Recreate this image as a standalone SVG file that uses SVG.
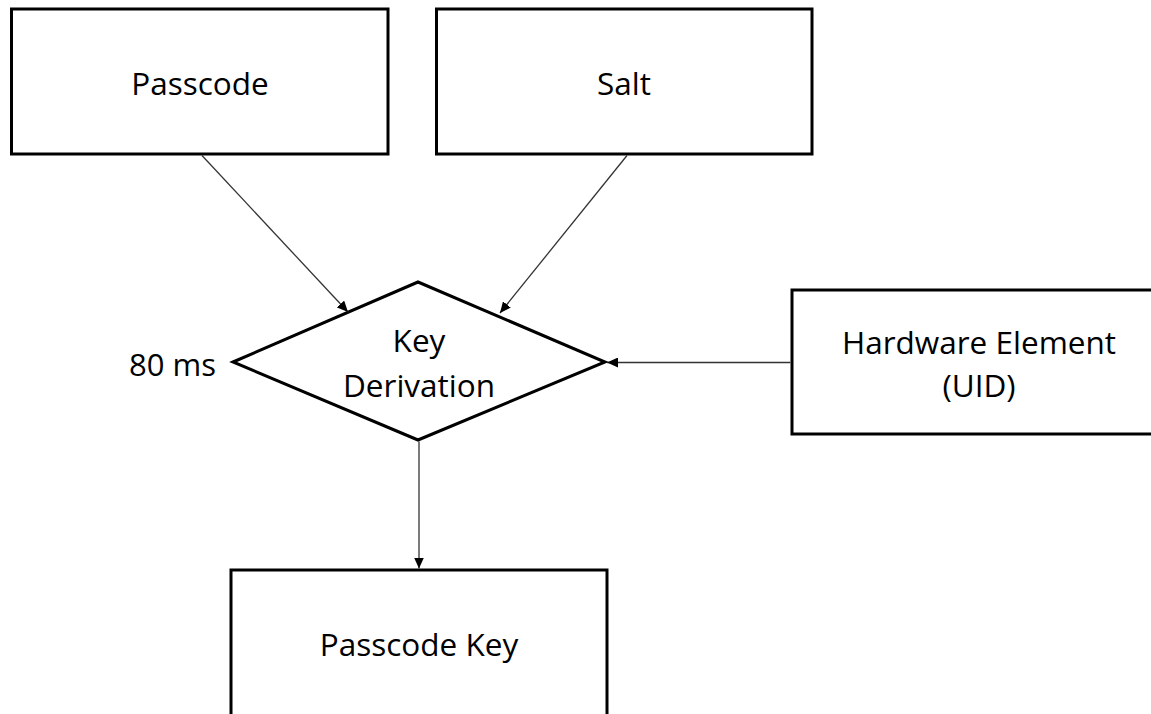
<svg xmlns="http://www.w3.org/2000/svg" width="1151" height="714" viewBox="0 0 1151 714">
  <style>
    .box { fill: #ffffff; stroke: #000000; stroke-width: 3; }
    .label { font-family: "Open Sans", "Noto Sans", "Liberation Sans", sans-serif; font-size: 31.5px; fill: #000000; text-anchor: middle; }
    .note { font-family: "Open Sans", "Noto Sans", "Liberation Sans", sans-serif; font-size: 31px; fill: #000000; text-anchor: start; }
    .link { fill: none; stroke: #333333; stroke-width: 1.3; marker-end: url(#arrow); }
  </style>
  <defs>
    <marker id="arrow" markerUnits="userSpaceOnUse" markerWidth="12" markerHeight="10" refX="11" refY="5" orient="auto">
      <path d="M0,0 L11,5 L0,10 Z" fill="#000000"/>
    </marker>
  </defs>

  <rect width="1151" height="714" fill="#ffffff"/>

  <g id="passcode">
    <rect class="box" x="11.5" y="9" width="376.5" height="145"/>
    <text class="label" x="200" y="95">Passcode</text>
  </g>

  <g id="salt">
    <rect class="box" x="436.5" y="9" width="375.5" height="145"/>
    <text class="label" x="624" y="95">Salt</text>
  </g>

  <g id="key-derivation">
    <polygon class="box" points="233,362 418,282 605,362 418,440"/>
    <text class="label" x="419" y="352">Key</text>
    <text class="label" x="419" y="397">Derivation</text>
  </g>

  <g id="timing-note">
    <text class="note" x="129" y="376">80 ms</text>
  </g>

  <g id="hardware-element">
    <rect class="box" x="792" y="290" width="374" height="144"/>
    <text class="label" x="979" y="354">Hardware Element</text>
    <text class="label" x="979" y="397">(UID)</text>
  </g>

  <g id="passcode-key">
    <rect class="box" x="231" y="570" width="376" height="160"/>
    <text class="label" x="419" y="656">Passcode Key</text>
  </g>

  <g id="connectors">
    <line class="link" x1="202" y1="155.5" x2="348" y2="312"/>
    <line class="link" x1="627" y1="155.5" x2="500" y2="313"/>
    <line class="link" x1="790.5" y1="362.5" x2="607" y2="362.5"/>
    <line class="link" x1="419" y1="441.5" x2="419" y2="568.5"/>
  </g>
</svg>
